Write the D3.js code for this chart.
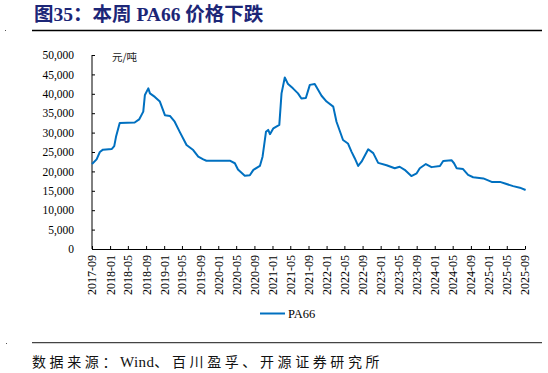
<!DOCTYPE html>
<html>
<head>
<meta charset="utf-8">
<script src="https://cdn.jsdelivr.net/npm/d3@7"></script>
<style>
  body { margin: 0; background: #fff; }
  svg { display: block; }
  .axis text { font-family: "Liberation Serif", "Times New Roman", serif; fill: #000; }
  .axis path, .axis line { stroke: #000; }
</style>
</head>
<body>
<svg width="548" height="373"></svg>
<script>
// PA66 价格（元/吨）
var dates = ["2017-09-01", "2017-10-02", "2017-10-24", "2017-11-14", "2018-01-13", "2018-01-29",
    "2018-02-10", "2018-03-07", "2018-06-16", "2018-07-16", "2018-08-13", "2018-08-24", "2018-09-16",
    "2018-09-27", "2018-10-30", "2018-12-03", "2019-01-06", "2019-02-09", "2019-03-13", "2019-04-16",
    "2019-06-01", "2019-07-16", "2019-08-19", "2019-09-22", "2019-10-13", "2020-03-19", "2020-04-22",
    "2020-05-13", "2020-06-28", "2020-08-01", "2020-08-25", "2020-10-08", "2020-10-26", "2020-11-18",
    "2020-12-03", "2020-12-15", "2021-01-07", "2021-02-16", "2021-03-03", "2021-03-25", "2021-04-16",
    "2021-05-19", "2021-06-22", "2021-07-15", "2021-08-14", "2021-09-10", "2021-10-13", "2021-11-28",
    "2022-01-01", "2022-02-15", "2022-03-09", "2022-04-22", "2022-05-25", "2022-06-18", "2022-07-10",
    "2022-08-02", "2022-08-25", "2022-10-09", "2022-11-12", "2022-12-15", "2023-02-10", "2023-04-06",
    "2023-05-09", "2023-06-12", "2023-07-27", "2023-09-01", "2023-09-22", "2023-11-02", "2023-12-10",
    "2024-02-05", "2024-02-27", "2024-04-23", "2024-05-10", "2024-05-28", "2024-07-10", "2024-08-13",
    "2024-09-16", "2024-11-24", "2025-01-19", "2025-03-16", "2025-04-19", "2025-06-13", "2025-07-28",
    "2025-09-05"
];
var values = [21900, 23100, 25000, 25600, 25800, 26500,
    28900, 32500, 32600, 33400, 35400, 39700, 41400,
    40100, 39200, 38000, 34500, 34300, 32800, 30200,
    26800, 25500, 23800, 23100, 22750, 22750, 22100,
    20500, 18900, 19000, 20400, 21400, 23800, 30200,
    30700, 29600, 31100, 32000, 40100, 44200, 42500,
    41400, 40100, 38800, 38900, 42300, 42500, 39500,
    38000, 36700, 32800, 28100, 27200, 25100, 23400,
    21400, 22500, 25700, 24700, 22200, 21600, 20800,
    21200, 20400, 18800, 19500, 20800, 21900, 21100,
    21400, 22700, 22900, 22100, 20800, 20600, 19100,
    18500, 18200, 17300, 17300, 16900, 16200, 15800,
    15200
];
var yTicks = [0, 5000, 10000, 15000, 20000, 25000, 30000, 35000, 40000, 45000, 50000];
var seriesName = "PA66";
var unitLabel = "元/吨";
var titleText = "图35：本周 PA66 价格下跌";
var sourceParts = ["数据来源：", "Wind", "、百川盈孚、开源证券研究所"];

const lineColor = "#0070c0";
const parse = d3.utcParse("%Y-%m-%d");
const data = dates.map((d, i) => ({ date: parse(d), value: values[i] }));

const svg = d3.select('svg');
const margin = { left: 92, right: 23, top: 55, bottom: 124 };
const width = +svg.attr('width');
const height = +svg.attr('height');

// 标题 + 上下分隔线
svg.append("text")
    .attr("x", 34).attr("y", 21)
    .attr("font-family", "'Liberation Serif', 'Noto Sans CJK SC', serif")
    .attr("font-weight", "bold")
    .attr("font-size", 19.5)
    .attr("fill", "#1c2677")
    .text(titleText);
svg.append("line").attr("x1", 32).attr("x2", 542).attr("y1", 30.5).attr("y2", 30.5)
    .attr("stroke", "#000").attr("stroke-width", 1.3);
svg.append("rect").attr("x", 5).attr("y", 30).attr("width", 1).attr("height", 1).attr("fill", "#555");
svg.append("line").attr("x1", 32).attr("x2", 542).attr("y1", 342.7).attr("y2", 342.7)
    .attr("stroke", "#444").attr("stroke-width", 1.2);
svg.append("rect").attr("x", 6).attr("y", 343).attr("width", 1).attr("height", 1).attr("fill", "#555");

// 数据来源（中文字距较宽，Wind 正常）
const src = svg.append("text")
    .attr("x", 32).attr("y", 367)
    .attr("font-family", "'Noto Sans CJK SC', 'Liberation Serif', sans-serif")
    .attr("font-size", 14)
    .attr("fill", "#111");
src.append("tspan").attr("letter-spacing", 3.6).text(sourceParts[0]);
src.append("tspan").attr("font-family", "'Liberation Serif', serif").attr("font-size", 15)
    .attr("letter-spacing", 0.4).text(sourceParts[1]);
src.append("tspan").attr("letter-spacing", 3.6).text(sourceParts[2]);

const xScale = d3.scaleUtc()
    .domain([parse("2017-09-01"), parse("2025-09-01")])
    .range([margin.left, width - margin.right]);
const yScale = d3.scaleLinear()
    .domain([0, 50000])
    .range([height - margin.bottom, margin.top]);

// y 轴
const yAxis = d3.axisLeft(yScale)
    .tickValues(yTicks)
    .tickFormat(d3.format(","))
    .tickSize(-3)
    .tickPadding(18);
const yAxisG = svg.append("g")
    .attr("class", "axis")
    .attr("transform", `translate(${margin.left},0)`)
    .call(yAxis);
yAxisG.selectAll("text").attr("font-size", 11.5);
yAxisG.select(".domain").attr("d", `M0,${yScale(50000)}V${yScale(0)}`);

// x 轴，每4个月一个刻度
const xAxis = d3.axisBottom(xScale)
    .ticks(d3.utcMonth.every(4))
    .tickFormat(d3.utcFormat("%Y-%m"))
    .tickSize(-3)
    .tickSizeOuter(0);
const xAxisG = svg.append("g")
    .attr("class", "axis")
    .attr("transform", `translate(0,${yScale(0)})`)
    .call(xAxis);
xAxisG.selectAll("text")
    .attr("font-size", 12)
    .attr("text-anchor", "end")
    .attr("transform", "rotate(-90)")
    .attr("x", -6)
    .attr("y", 0)
    .attr("dy", "0.33em");

svg.append("text")
    .attr("x", 112).attr("y", 61)
    .attr("font-family", "'Noto Sans CJK SC', sans-serif")
    .attr("font-size", 10.5)
    .attr("fill", "#222")
    .text(unitLabel);

// 折线
const line = d3.line()
    .x(d => xScale(d.date))
    .y(d => yScale(d.value));
svg.append("path")
    .datum(data)
    .attr("fill", "none")
    .attr("stroke", lineColor)
    .attr("stroke-width", 2)
    .attr("stroke-linejoin", "round")
    .attr("d", line);

// 图例
const legend = svg.append("g").attr("transform", "translate(260,313.5)");
legend.append("line").attr("x1", 0).attr("x2", 25)
    .attr("stroke", lineColor).attr("stroke-width", 2);
legend.append("text")
    .attr("x", 28).attr("y", 4.5)
    .attr("font-family", "'Liberation Serif', serif")
    .attr("font-size", 12.5)
    .text(seriesName);
</script>
</body>
</html>
